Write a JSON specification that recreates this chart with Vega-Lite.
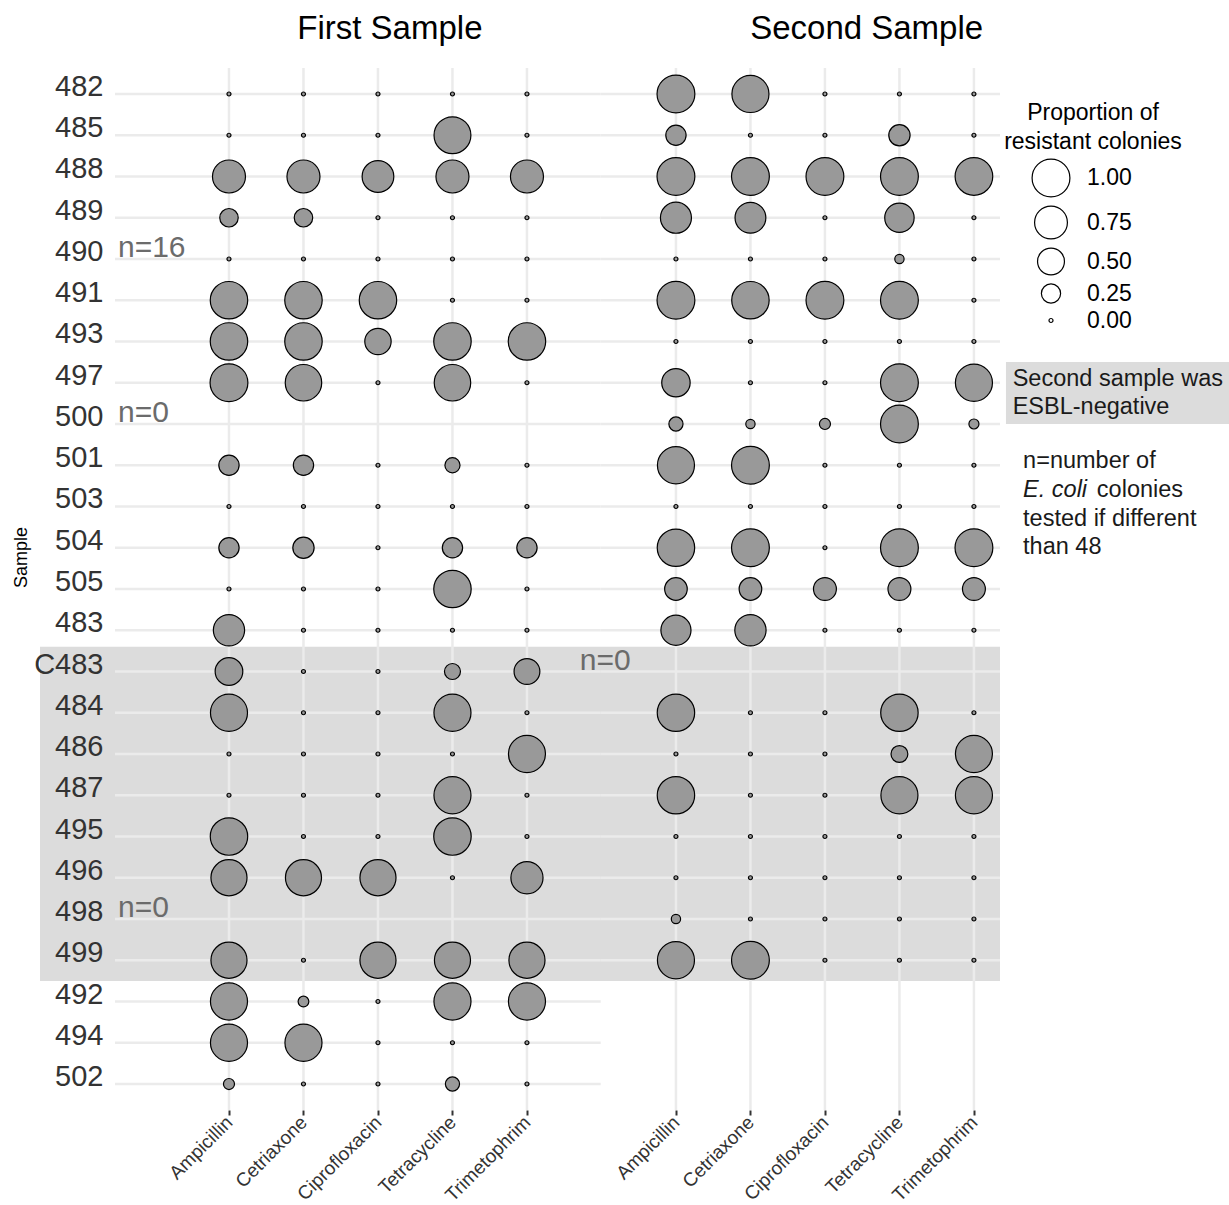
{
  "$schema": "https://vega.github.io/schema/vega-lite/v6.json",
  "autosize": "none",
  "width": 885,
  "height": 1042,
  "padding": {"left": 115, "top": 68, "right": 229, "bottom": 95},
  "background": "white",
  "config": {"view": {"stroke": null}, "font": "Liberation Sans"},
  "datasets": {
    "rows": [
      {"sample": "482", "second": true}, {"sample": "485", "second": true}, {"sample": "488", "second": true},
      {"sample": "489", "second": true}, {"sample": "490", "second": true}, {"sample": "491", "second": true},
      {"sample": "493", "second": true}, {"sample": "497", "second": true}, {"sample": "500", "second": true},
      {"sample": "501", "second": true}, {"sample": "503", "second": true}, {"sample": "504", "second": true},
      {"sample": "505", "second": true}, {"sample": "483", "second": true}, {"sample": "C483", "second": true},
      {"sample": "484", "second": true}, {"sample": "486", "second": true}, {"sample": "487", "second": true},
      {"sample": "495", "second": true}, {"sample": "496", "second": true}, {"sample": "498", "second": true},
      {"sample": "499", "second": true}, {"sample": "492", "second": false}, {"sample": "494", "second": false},
      {"sample": "502", "second": false}
    ],
    "drugs": [
      {"col": 1, "drug": "Ampicillin"}, {"col": 2, "drug": "Cetriaxone"}, {"col": 3, "drug": "Ciprofloxacin"},
      {"col": 4, "drug": "Tetracycline"}, {"col": 5, "drug": "Trimetophrim"},
      {"col": 7, "drug": "Ampicillin"}, {"col": 8, "drug": "Cetriaxone"}, {"col": 9, "drug": "Ciprofloxacin"},
      {"col": 10, "drug": "Tetracycline"}, {"col": 11, "drug": "Trimetophrim"}
    ],
    "cells": [
      {"sample":"482","col":1,"prop":0},{"sample":"482","col":2,"prop":0},{"sample":"482","col":3,"prop":0},{"sample":"482","col":4,"prop":0},{"sample":"482","col":5,"prop":0},
      {"sample":"485","col":1,"prop":0},{"sample":"485","col":2,"prop":0},{"sample":"485","col":3,"prop":0},{"sample":"485","col":4,"prop":0.95},{"sample":"485","col":5,"prop":0},
      {"sample":"488","col":1,"prop":0.76},{"sample":"488","col":2,"prop":0.76},{"sample":"488","col":3,"prop":0.7},{"sample":"488","col":4,"prop":0.76},{"sample":"488","col":5,"prop":0.76},
      {"sample":"489","col":1,"prop":0.23},{"sample":"489","col":2,"prop":0.23},{"sample":"489","col":3,"prop":0},{"sample":"489","col":4,"prop":0},{"sample":"489","col":5,"prop":0},
      {"sample":"490","col":1,"prop":0},{"sample":"490","col":2,"prop":0},{"sample":"490","col":3,"prop":0},{"sample":"490","col":4,"prop":0},{"sample":"490","col":5,"prop":0},
      {"sample":"491","col":1,"prop":0.98},{"sample":"491","col":2,"prop":0.98},{"sample":"491","col":3,"prop":0.98},{"sample":"491","col":4,"prop":0},{"sample":"491","col":5,"prop":0},
      {"sample":"493","col":1,"prop":0.98},{"sample":"493","col":2,"prop":0.98},{"sample":"493","col":3,"prop":0.48},{"sample":"493","col":4,"prop":0.98},{"sample":"493","col":5,"prop":0.98},
      {"sample":"497","col":1,"prop":1},{"sample":"497","col":2,"prop":0.93},{"sample":"497","col":3,"prop":0},{"sample":"497","col":4,"prop":0.93},{"sample":"497","col":5,"prop":0},
      {"sample":"501","col":1,"prop":0.28},{"sample":"501","col":2,"prop":0.28},{"sample":"501","col":3,"prop":0},{"sample":"501","col":4,"prop":0.15},{"sample":"501","col":5,"prop":0},
      {"sample":"503","col":1,"prop":0},{"sample":"503","col":2,"prop":0},{"sample":"503","col":3,"prop":0},{"sample":"503","col":4,"prop":0},{"sample":"503","col":5,"prop":0},
      {"sample":"504","col":1,"prop":0.28},{"sample":"504","col":2,"prop":0.31},{"sample":"504","col":3,"prop":0},{"sample":"504","col":4,"prop":0.28},{"sample":"504","col":5,"prop":0.28},
      {"sample":"505","col":1,"prop":0},{"sample":"505","col":2,"prop":0},{"sample":"505","col":3,"prop":0},{"sample":"505","col":4,"prop":0.98},{"sample":"505","col":5,"prop":0},
      {"sample":"483","col":1,"prop":0.68},{"sample":"483","col":2,"prop":0},{"sample":"483","col":3,"prop":0},{"sample":"483","col":4,"prop":0},{"sample":"483","col":5,"prop":0},
      {"sample":"C483","col":1,"prop":0.53},{"sample":"C483","col":2,"prop":0},{"sample":"C483","col":3,"prop":0},{"sample":"C483","col":4,"prop":0.17},{"sample":"C483","col":5,"prop":0.46},
      {"sample":"484","col":1,"prop":0.96},{"sample":"484","col":2,"prop":0},{"sample":"484","col":3,"prop":0},{"sample":"484","col":4,"prop":0.96},{"sample":"484","col":5,"prop":0},
      {"sample":"486","col":1,"prop":0},{"sample":"486","col":2,"prop":0},{"sample":"486","col":3,"prop":0},{"sample":"486","col":4,"prop":0},{"sample":"486","col":5,"prop":0.96},
      {"sample":"487","col":1,"prop":0},{"sample":"487","col":2,"prop":0},{"sample":"487","col":3,"prop":0},{"sample":"487","col":4,"prop":0.96},{"sample":"487","col":5,"prop":0},
      {"sample":"495","col":1,"prop":0.98},{"sample":"495","col":2,"prop":0},{"sample":"495","col":3,"prop":0},{"sample":"495","col":4,"prop":0.98},{"sample":"495","col":5,"prop":0},
      {"sample":"496","col":1,"prop":0.91},{"sample":"496","col":2,"prop":0.91},{"sample":"496","col":3,"prop":0.91},{"sample":"496","col":4,"prop":0},{"sample":"496","col":5,"prop":0.72},
      {"sample":"499","col":1,"prop":0.91},{"sample":"499","col":2,"prop":0},{"sample":"499","col":3,"prop":0.91},{"sample":"499","col":4,"prop":0.91},{"sample":"499","col":5,"prop":0.91},
      {"sample":"492","col":1,"prop":0.96},{"sample":"492","col":2,"prop":0.07},{"sample":"492","col":3,"prop":0},{"sample":"492","col":4,"prop":0.96},{"sample":"492","col":5,"prop":0.96},
      {"sample":"494","col":1,"prop":0.96},{"sample":"494","col":2,"prop":0.96},{"sample":"494","col":3,"prop":0},{"sample":"494","col":4,"prop":0},{"sample":"494","col":5,"prop":0},
      {"sample":"502","col":1,"prop":0.075},{"sample":"502","col":2,"prop":0},{"sample":"502","col":3,"prop":0},{"sample":"502","col":4,"prop":0.13},{"sample":"502","col":5,"prop":0},

      {"sample":"482","col":7,"prop":1},{"sample":"482","col":8,"prop":0.96},{"sample":"482","col":9,"prop":0},{"sample":"482","col":10,"prop":0},{"sample":"482","col":11,"prop":0},
      {"sample":"485","col":7,"prop":0.28},{"sample":"485","col":8,"prop":0},{"sample":"485","col":9,"prop":0},{"sample":"485","col":10,"prop":0.31},{"sample":"485","col":11,"prop":0},
      {"sample":"488","col":7,"prop":1},{"sample":"488","col":8,"prop":1},{"sample":"488","col":9,"prop":1},{"sample":"488","col":10,"prop":1},{"sample":"488","col":11,"prop":0.99},
      {"sample":"489","col":7,"prop":0.67},{"sample":"489","col":8,"prop":0.66},{"sample":"489","col":9,"prop":0},{"sample":"489","col":10,"prop":0.6},{"sample":"489","col":11,"prop":0},
      {"sample":"490","col":7,"prop":0},{"sample":"490","col":8,"prop":0},{"sample":"490","col":9,"prop":0},{"sample":"490","col":10,"prop":0.05},{"sample":"490","col":11,"prop":0},
      {"sample":"491","col":7,"prop":1},{"sample":"491","col":8,"prop":0.98},{"sample":"491","col":9,"prop":1},{"sample":"491","col":10,"prop":1},{"sample":"491","col":11,"prop":0},
      {"sample":"493","col":7,"prop":0},{"sample":"493","col":8,"prop":0},{"sample":"493","col":9,"prop":0},{"sample":"493","col":10,"prop":0},{"sample":"493","col":11,"prop":0},
      {"sample":"497","col":7,"prop":0.56},{"sample":"497","col":8,"prop":0},{"sample":"497","col":9,"prop":0},{"sample":"497","col":10,"prop":1},{"sample":"497","col":11,"prop":0.96},
      {"sample":"500","col":7,"prop":0.13},{"sample":"500","col":8,"prop":0.05},{"sample":"500","col":9,"prop":0.075},{"sample":"500","col":10,"prop":1},{"sample":"500","col":11,"prop":0.06},
      {"sample":"501","col":7,"prop":0.96},{"sample":"501","col":8,"prop":1},{"sample":"501","col":9,"prop":0},{"sample":"501","col":10,"prop":0},{"sample":"501","col":11,"prop":0},
      {"sample":"503","col":7,"prop":0},{"sample":"503","col":8,"prop":0},{"sample":"503","col":9,"prop":0},{"sample":"503","col":10,"prop":0},{"sample":"503","col":11,"prop":0},
      {"sample":"504","col":7,"prop":0.98},{"sample":"504","col":8,"prop":1},{"sample":"504","col":9,"prop":0},{"sample":"504","col":10,"prop":1},{"sample":"504","col":11,"prop":1},
      {"sample":"505","col":7,"prop":0.35},{"sample":"505","col":8,"prop":0.35},{"sample":"505","col":9,"prop":0.36},{"sample":"505","col":10,"prop":0.36},{"sample":"505","col":11,"prop":0.36},
      {"sample":"483","col":7,"prop":0.63},{"sample":"483","col":8,"prop":0.68},{"sample":"483","col":9,"prop":0},{"sample":"483","col":10,"prop":0},{"sample":"483","col":11,"prop":0},
      {"sample":"484","col":7,"prop":0.98},{"sample":"484","col":8,"prop":0},{"sample":"484","col":9,"prop":0},{"sample":"484","col":10,"prop":0.98},{"sample":"484","col":11,"prop":0},
      {"sample":"486","col":7,"prop":0},{"sample":"486","col":8,"prop":0},{"sample":"486","col":9,"prop":0},{"sample":"486","col":10,"prop":0.19},{"sample":"486","col":11,"prop":0.96},
      {"sample":"487","col":7,"prop":0.98},{"sample":"487","col":8,"prop":0},{"sample":"487","col":9,"prop":0},{"sample":"487","col":10,"prop":0.96},{"sample":"487","col":11,"prop":0.96},
      {"sample":"495","col":7,"prop":0},{"sample":"495","col":8,"prop":0},{"sample":"495","col":9,"prop":0},{"sample":"495","col":10,"prop":0},{"sample":"495","col":11,"prop":0},
      {"sample":"496","col":7,"prop":0},{"sample":"496","col":8,"prop":0},{"sample":"496","col":9,"prop":0},{"sample":"496","col":10,"prop":0},{"sample":"496","col":11,"prop":0},
      {"sample":"498","col":7,"prop":0.05},{"sample":"498","col":8,"prop":0},{"sample":"498","col":9,"prop":0},{"sample":"498","col":10,"prop":0},{"sample":"498","col":11,"prop":0},
      {"sample":"499","col":7,"prop":0.96},{"sample":"499","col":8,"prop":1},{"sample":"499","col":9,"prop":0},{"sample":"499","col":10,"prop":0},{"sample":"499","col":11,"prop":0}
    ]
  },
  "layer": [
    {
      "data": {"values": [{"top": "483", "bottom": "499"}]},
      "mark": {"type": "rect", "fill": "#dcdcdc", "clip": false},
      "encoding": {
        "x": {"datum": -1.537, "type": "quantitative"},
        "x2": {"datum": 11.35},
        "y": {"field": "top", "type": "ordinal", "bandPosition": 0.9},
        "y2": {"field": "bottom", "bandPosition": 1}
      }
    },
    {
      "data": {"name": "drugs"},
      "mark": {"type": "rule", "color": "#ebebeb", "strokeWidth": 2.5},
      "encoding": {"x": {"field": "col", "type": "quantitative"}}
    },
    {
      "data": {"name": "rows"},
      "mark": {"type": "rule", "color": "#ebebeb", "strokeWidth": 2.5},
      "encoding": {
        "y": {"field": "sample", "type": "ordinal"},
        "x": {"datum": -0.53, "type": "quantitative"},
        "x2": {"datum": 5.99}
      }
    },
    {
      "data": {"name": "rows"},
      "transform": [{"filter": "datum.second"}],
      "mark": {"type": "rule", "color": "#ebebeb", "strokeWidth": 2.5},
      "encoding": {
        "y": {"field": "sample", "type": "ordinal"},
        "x": {"datum": 5.99, "type": "quantitative"},
        "x2": {"datum": 11.35}
      }
    },
    {
      "data": {"name": "cells"},
      "mark": {"type": "circle", "stroke": "black", "strokeWidth": 1.2, "opacity": 1},
      "encoding": {
        "x": {
          "field": "col", "type": "quantitative",
          "scale": {"type": "linear", "domain": [-0.53, 11.35], "nice": false, "zero": false},
          "axis": {
            "values": [1, 2, 3, 4, 5, 7, 8, 9, 10, 11],
            "labelExpr": "['','Ampicillin','Cetriaxone','Ciprofloxacin','Tetracycline','Trimetophrim','','Ampicillin','Cetriaxone','Ciprofloxacin','Tetracycline','Trimetophrim'][datum.value]",
            "title": null, "grid": false, "domain": false, "ticks": true,
            "tickColor": "#333333", "tickWidth": 2, "tickSize": 5,
            "labelAngle": -45, "labelAlign": "right", "labelBaseline": "middle",
            "labelFontSize": 19, "labelColor": "#333333", "labelPadding": 4,
            "labelOverlap": false, "labelBound": false, "labelFlush": false
          }
        },
        "y": {
          "field": "sample", "type": "ordinal",
          "scale": {
            "type": "band",
            "domain": ["482","485","488","489","490","491","493","497","500","501","503","504","505","483","C483","484","486","487","495","496","498","499","492","494","502"],
            "paddingInner": 0, "paddingOuter": 0.13
          },
          "axis": {
            "title": "Sample", "titleFontSize": 18, "titleFontWeight": "normal", "titleColor": "black",
            "titleX": -94, "titleY": 489, "titleAngle": -90, "titleBaseline": "middle", "titleAlign": "center",
            "labelFontSize": 29, "labelColor": "#333333", "labelPadding": 12,
            "ticks": false, "domain": false, "grid": false, "zindex": 1,
            "labelBaseline": "alphabetic", "labelOffset": 2
          }
        },
        "fill": {
          "field": "sample", "type": "nominal",
          "scale": {"range": ["#999999"]},
          "legend": null
        },
        "size": {
          "field": "prop", "type": "quantitative",
          "scale": {"type": "linear", "domain": [0, 1], "range": [16, 1430], "zero": false},
          "legend": {
            "title": ["Proportion of", "resistant colonies"],
            "orient": "none", "legendX": 889, "legendY": 34,
            "values": [1, 0.75, 0.5, 0.25, 0], "format": ".2f",
            "titleFontSize": 23, "titleFontWeight": "normal", "titleColor": "black",
            "titleAlign": "center", "titleAnchor": "middle", "titleLineHeight": 29, "titlePadding": 4,
            "labelFontSize": 23, "labelColor": "black", "labelOffset": 16,
            "symbolOffset": -23, "symbolType": "circle",
            "symbolFillColor": "white", "symbolStrokeColor": "black", "symbolStrokeWidth": 1.2, "symbolOpacity": 1,
            "rowPadding": 3, "padding": 0
          }
        }
      }
    },
    {
      "data": {"values": [
        {"sample": "490", "col": -0.49, "label": "n=16"},
        {"sample": "500", "col": -0.49, "label": "n=0"},
        {"sample": "498", "col": -0.49, "label": "n=0"},
        {"sample": "C483", "col": 5.71, "label": "n=0"}
      ]},
      "mark": {"type": "text", "align": "left", "baseline": "alphabetic", "dy": -2, "fontSize": 30, "color": "#6b6b6b"},
      "encoding": {
        "x": {"field": "col", "type": "quantitative"},
        "y": {"field": "sample", "type": "ordinal"},
        "text": {"field": "label"}
      }
    },
    {
      "data": {"values": [
        {"sample": "482", "col": 3.16, "label": "First Sample"},
        {"sample": "482", "col": 9.56, "label": "Second Sample"}
      ]},
      "mark": {"type": "text", "align": "center", "baseline": "alphabetic", "dy": -55, "fontSize": 33, "color": "black"},
      "encoding": {
        "x": {"field": "col", "type": "quantitative"},
        "y": {"field": "sample", "type": "ordinal"},
        "text": {"field": "label"}
      }
    },
    {
      "data": {"values": [{"top": "497", "bottom": "500"}]},
      "mark": {"type": "rect", "fill": "#dcdcdc", "clip": false},
      "encoding": {
        "x": {"datum": 11.43, "type": "quantitative"},
        "x2": {"datum": 14.5},
        "y": {"field": "top", "type": "ordinal", "bandPosition": 0},
        "y2": {"field": "bottom", "bandPosition": 0.5}
      }
    },
    {
      "data": {"values": [{"sample": "497", "col": 11.52, "label": ["Second sample was", "ESBL-negative"]}]},
      "mark": {"type": "text", "align": "left", "baseline": "alphabetic", "dy": 3, "fontSize": 23.5, "lineHeight": 28, "color": "#1a1a1a"},
      "encoding": {
        "x": {"field": "col", "type": "quantitative"},
        "y": {"field": "sample", "type": "ordinal"},
        "text": {"field": "label"}
      }
    },
    {
      "data": {"values": [{"sample": "501", "col": 11.66, "label": ["n=number of"]}]},
      "mark": {"type": "text", "align": "left", "baseline": "alphabetic", "dy": 3, "fontSize": 23.5, "color": "#1a1a1a"},
      "encoding": {
        "x": {"field": "col", "type": "quantitative"},
        "y": {"field": "sample", "type": "ordinal"},
        "text": {"field": "label"}
      }
    },
    {
      "data": {"values": [{"sample": "501", "col": 11.66, "label": "E. coli"}]},
      "mark": {"type": "text", "align": "left", "baseline": "alphabetic", "dy": 32, "fontSize": 23.5, "fontStyle": "italic", "color": "#1a1a1a"},
      "encoding": {
        "x": {"field": "col", "type": "quantitative"},
        "y": {"field": "sample", "type": "ordinal"},
        "text": {"field": "label"}
      }
    },
    {
      "data": {"values": [{"sample": "501", "col": 12.65, "label": "colonies"}]},
      "mark": {"type": "text", "align": "left", "baseline": "alphabetic", "dy": 32, "fontSize": 23.5, "color": "#1a1a1a"},
      "encoding": {
        "x": {"field": "col", "type": "quantitative"},
        "y": {"field": "sample", "type": "ordinal"},
        "text": {"field": "label"}
      }
    },
    {
      "data": {"values": [{"sample": "501", "col": 11.66, "label": ["tested if different", "than 48"]}]},
      "mark": {"type": "text", "align": "left", "baseline": "alphabetic", "dy": 61, "fontSize": 23.5, "lineHeight": 28, "color": "#1a1a1a"},
      "encoding": {
        "x": {"field": "col", "type": "quantitative"},
        "y": {"field": "sample", "type": "ordinal"},
        "text": {"field": "label"}
      }
    }
  ]
}
